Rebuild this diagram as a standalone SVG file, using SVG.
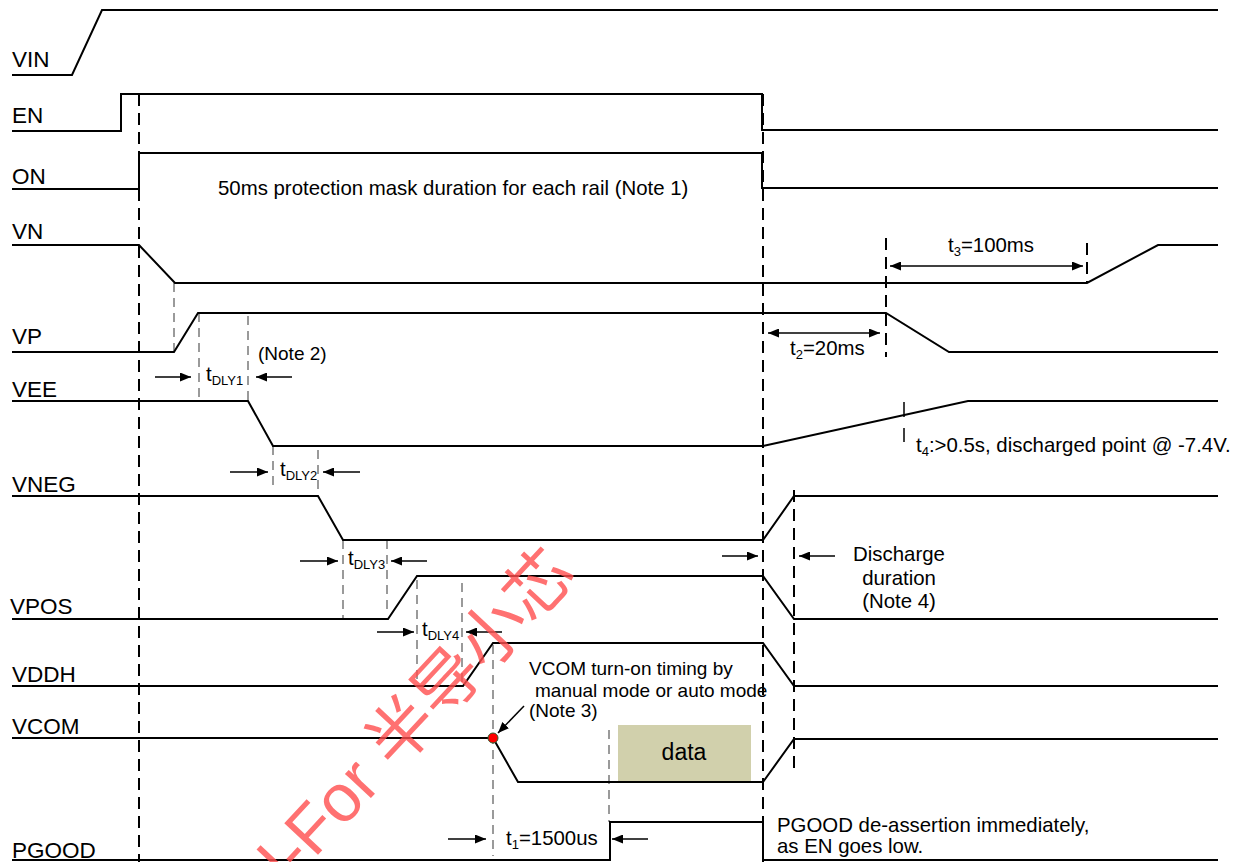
<svg xmlns="http://www.w3.org/2000/svg" width="1240" height="862" viewBox="0 0 1240 862">
<style>
.sig{fill:none;stroke:#000;stroke-width:2;stroke-linejoin:miter}
.gd{fill:none;stroke:#9a9a9a;stroke-width:2;stroke-dasharray:9 6}
.bd{fill:none;stroke:#000;stroke-width:2;stroke-dasharray:12 7}
.ar{fill:none;stroke:#000;stroke-width:1.5}
.lbl{font-family:"Liberation Sans",Arial,sans-serif;font-size:22.5px;fill:#000}
.t{font-family:"Liberation Sans",Arial,sans-serif;font-size:20.4px;fill:#000}
.n{font-family:"Liberation Sans",Arial,sans-serif;font-size:19px;fill:#000}
.sub{font-size:13px}
</style>
<defs>
<marker id="ah" markerUnits="userSpaceOnUse" markerWidth="11" markerHeight="9" refX="11" refY="4.5" orient="auto-start-reverse">
<path d="M0,0 L11,4.5 L0,9 z" fill="#000"/>
</marker>
</defs>
<rect width="1240" height="862" fill="#fff"/>

<g id="data-box">
<rect x="618" y="725" width="133" height="56" fill="#d1d0ac"/>
<text class="t" x="684" y="760" text-anchor="middle" style="font-size:23px">data</text>
</g>

<g id="guides">
<path class="gd" d="M174,283 V352 M199,313 V401 M248,316 V401 M273,446 V490 M318,450 V492 M343,540 V618 M387,540 V611 M417,580 V686 M462,583 V686 M493,645 V856 M609,730 V822"/>
<path class="bd" d="M139,94 V862 M763,94 V862 M794,490 V775 M886,238 V357 M1087,243 V283"/>
<path class="bd" style="stroke-width:1.5;stroke-dasharray:15 11" d="M904,402 V442"/>
</g>

<g id="VIN"><text class="lbl" x="12" y="67">VIN</text><path class="sig" d="M12,75 H72 L102,10 H1218"/></g>
<g id="EN"><text class="lbl" x="12" y="123">EN</text><path class="sig" d="M12,131 H121 V94 H762 V130 H1218"/></g>
<g id="ON"><text class="lbl" x="12" y="184">ON</text><path class="sig" d="M12,189 H139 V153 H762 V188 H1218"/></g>
<g id="VN"><text class="lbl" x="12" y="239">VN</text><path class="sig" d="M12,245 H139 L175,283 H1087 L1158,245 H1218"/></g>
<g id="VP"><text class="lbl" x="12" y="344">VP</text><path class="sig" d="M12,352 H174 L198,313 H886 L949,352 H1218"/></g>
<g id="VEE"><text class="lbl" x="12" y="397">VEE</text><path class="sig" d="M12,401 H248 L273,446 H763 L968,401 H1218"/></g>
<g id="VNEG"><text class="lbl" x="12" y="492">VNEG</text><path class="sig" d="M12,496 H318 L343,540 H763 L794,496 H1218"/></g>
<g id="VPOS"><text class="lbl" x="10" y="614">VPOS</text><path class="sig" d="M12,619 H388 L417,576 H763 L794,619 H1218"/></g>
<g id="VDDH"><text class="lbl" x="12" y="682">VDDH</text><path class="sig" d="M12,686 H463 L493,643 H763 L794,686 H1218"/></g>
<g id="VCOM"><text class="lbl" x="12" y="734">VCOM</text><path class="sig" d="M12,738 H493 L518,782 H763 L794,739 H1218"/>
<circle cx="493" cy="738" r="5" fill="#ff0000" stroke="#2f5f2f" stroke-width="1"/></g>
<g id="PGOOD"><text class="lbl" x="12" y="858">PGOOD</text><path class="sig" d="M12,860 H610 V822 H763 V860 H1218"/></g>

<g id="connectors">
<line class="ar" x1="155" y1="377" x2="191" y2="377" marker-end="url(#ah)"/>
<line class="ar" x1="292" y1="377" x2="256" y2="377" marker-end="url(#ah)"/>
<line class="ar" x1="230" y1="472" x2="268" y2="472" marker-end="url(#ah)"/>
<line class="ar" x1="360" y1="472" x2="323" y2="472" marker-end="url(#ah)"/>
<line class="ar" x1="300" y1="561" x2="338" y2="561" marker-end="url(#ah)"/>
<line class="ar" x1="427" y1="561" x2="391" y2="561" marker-end="url(#ah)"/>
<line class="ar" x1="377" y1="632" x2="414" y2="632" marker-end="url(#ah)"/>
<line class="ar" x1="502" y1="632" x2="466" y2="632" marker-end="url(#ah)"/>
<line class="ar" x1="448" y1="839" x2="486" y2="839" marker-end="url(#ah)"/>
<line class="ar" x1="648" y1="839" x2="612" y2="839" marker-end="url(#ah)"/>
<line class="ar" x1="768" y1="333" x2="880" y2="333" marker-start="url(#ah)" marker-end="url(#ah)"/>
<line class="ar" x1="890" y1="266" x2="1083" y2="266" marker-start="url(#ah)" marker-end="url(#ah)"/>
<line class="ar" x1="722" y1="556" x2="758" y2="556" marker-end="url(#ah)"/>
<line class="ar" x1="835" y1="556" x2="799" y2="556" marker-end="url(#ah)"/>
<line class="ar" x1="524" y1="706" x2="498" y2="733" marker-end="url(#ah)"/>
</g>

<g id="annotations">
<text class="t" x="218" y="195">50ms protection mask duration for each rail (Note 1)</text>
<text class="n" x="258" y="360">(Note 2)</text>
<text class="t" x="206" y="381">t<tspan class="sub" dy="4">DLY1</tspan></text>
<text class="t" x="280" y="476">t<tspan class="sub" dy="4">DLY2</tspan></text>
<text class="t" x="348" y="565">t<tspan class="sub" dy="4">DLY3</tspan></text>
<text class="t" x="422" y="636">t<tspan class="sub" dy="4">DLY4</tspan></text>
<text class="t" x="506" y="845">t<tspan class="sub" dy="4">1</tspan><tspan dy="-4">=1500us</tspan></text>
<text class="t" x="790" y="355">t<tspan class="sub" dy="4">2</tspan><tspan dy="-4">=20ms</tspan></text>
<text class="t" x="948" y="252">t<tspan class="sub" dy="4">3</tspan><tspan dy="-4">=100ms</tspan></text>
<text class="t" x="916" y="452">t<tspan class="sub" dy="4">4</tspan><tspan dy="-4">:&gt;0.5s, discharged point @ -7.4V.</tspan></text>
<text class="t" x="899" y="561" text-anchor="middle">Discharge</text>
<text class="t" x="899" y="585" text-anchor="middle">duration</text>
<text class="t" x="899" y="608" text-anchor="middle">(Note 4)</text>
<text class="n" x="529" y="675">VCOM turn-on timing by</text>
<text class="n" x="535" y="697">manual mode or auto mode</text>
<text class="n" x="529" y="717">(Note 3)</text>
<text class="t" x="777" y="832">PGOOD de-assertion immediately,</text>
<text class="t" x="777" y="853">as EN goes low.</text>
</g>

<g id="watermark">
<text transform="translate(289,886) rotate(-47)" style="font-family:'Liberation Sans','Noto Sans CJK SC',sans-serif;font-size:67px" fill="#ff4d4d" fill-opacity="0.8">l-For 半导小芯</text>
</g>
</svg>
